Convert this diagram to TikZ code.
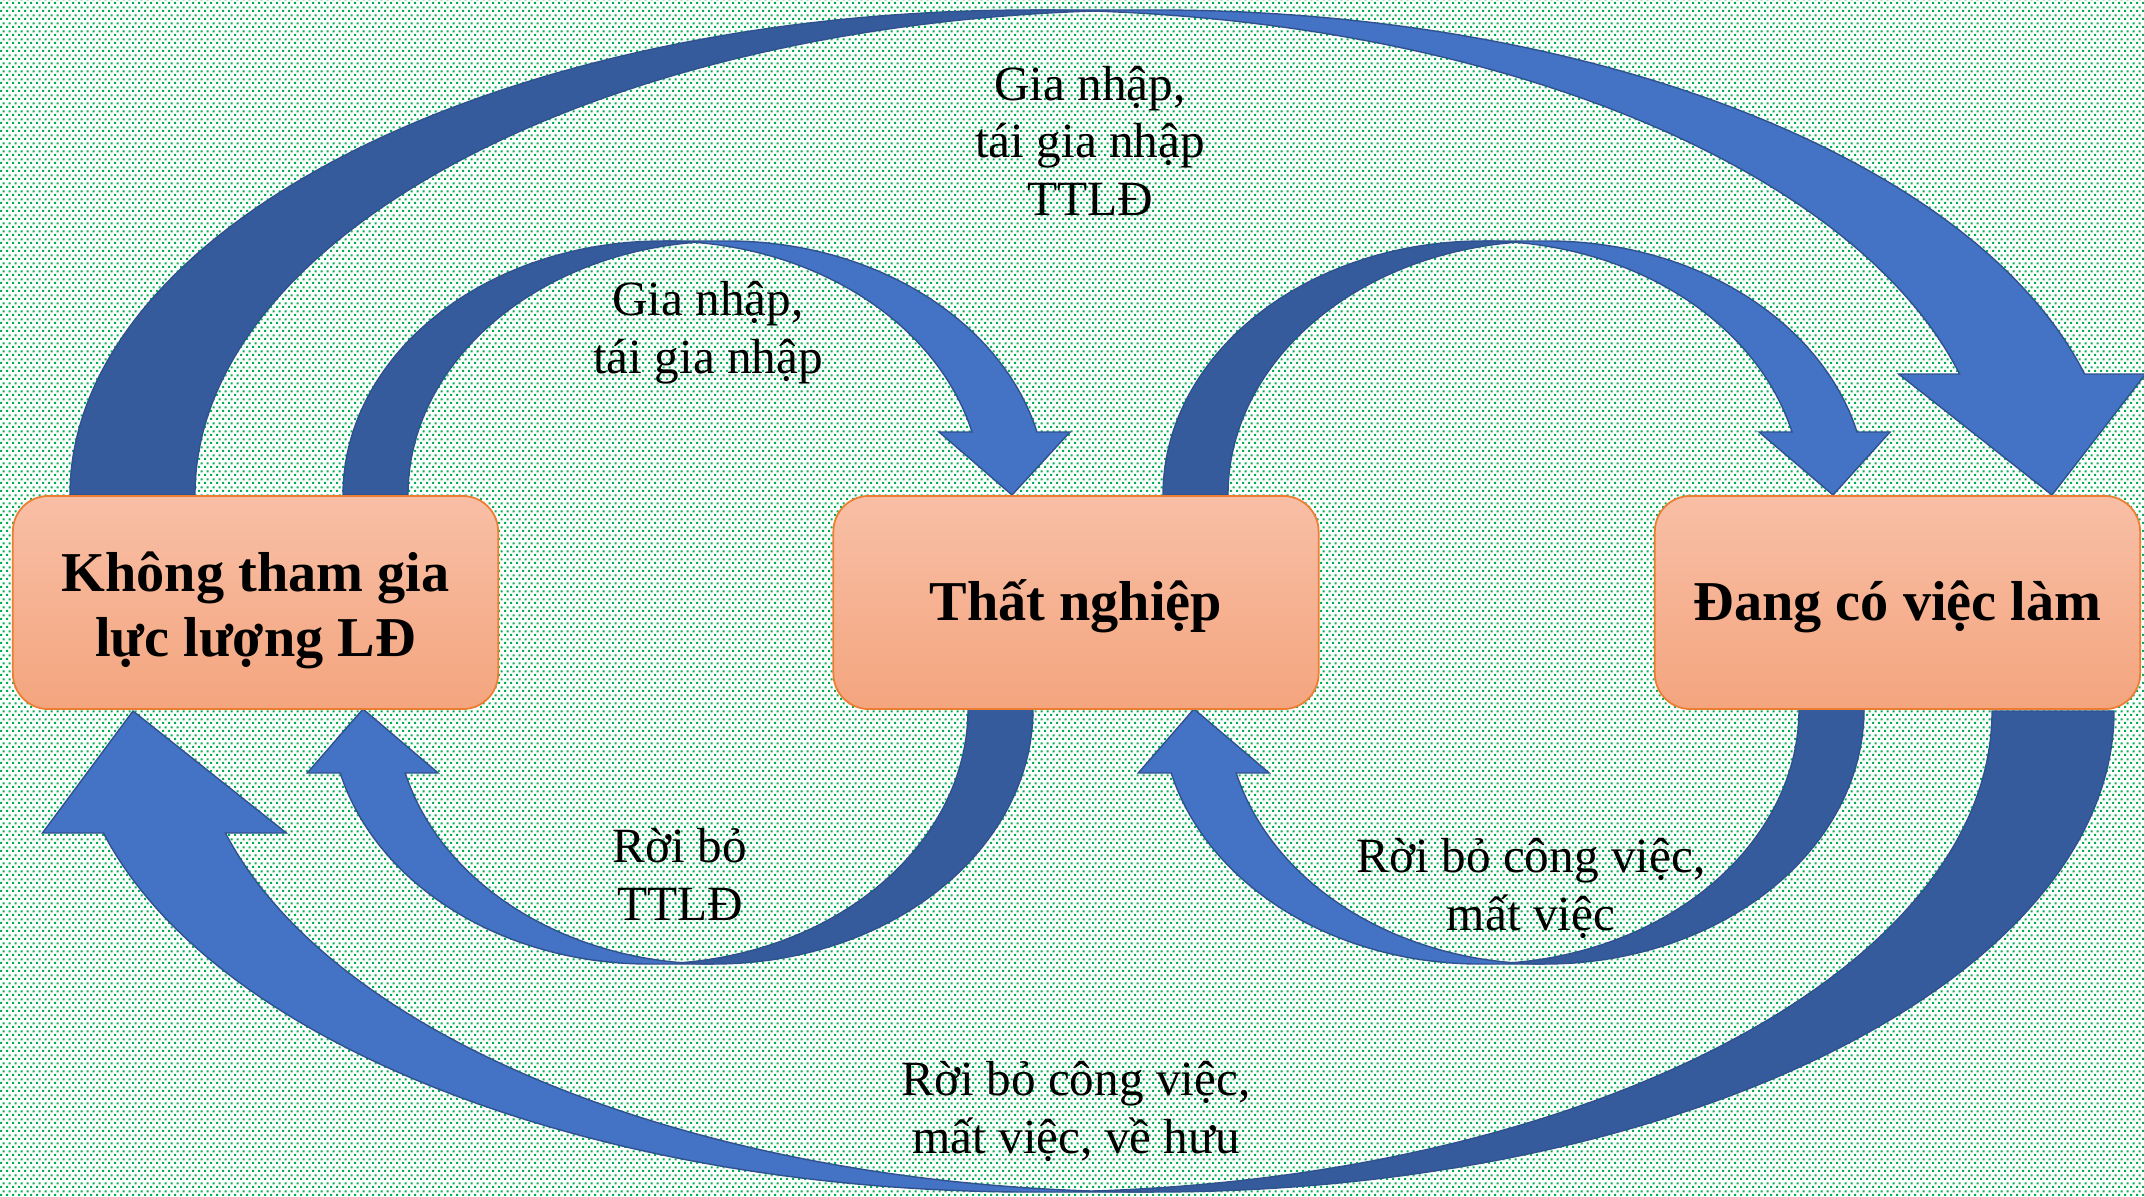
\documentclass[tikz,border=0pt]{standalone}
\usepackage{fontspec}
\setmainfont{Liberation Serif}
\usetikzlibrary{patterns}

\definecolor{dotgreen}{HTML}{00B050}
\definecolor{bandlight}{HTML}{4472C4}
\definecolor{banddark}{HTML}{365B9C}
\definecolor{bandline}{HTML}{2F528F}
\definecolor{boxtop}{HTML}{F8BFA6}
\definecolor{boxbottom}{HTML}{F4A57E}
\definecolor{boxline}{HTML}{ED7D31}

% dotted paper behind the diagram
\pgfdeclarepatternformonly{greendots}{\pgfpointorigin}{\pgfpoint{1.6pt}{2.16pt}}{\pgfpoint{1.6pt}{2.16pt}}{%
  \pgfpathrectangle{\pgfpointorigin}{\pgfpoint{0.62pt}{0.62pt}}%
  \pgfpathrectangle{\pgfpoint{0.8pt}{1.08pt}}{\pgfpoint{0.62pt}{0.62pt}}%
  \pgfusepath{fill}%
}

\begin{document}
\begin{tikzpicture}[x=0.01cm, y=-0.01cm,
  stbox/.style={draw=boxline, line width=0.5pt, rounded corners=0.355cm,
    top color=boxtop, bottom color=boxbottom, minimum width=4.85cm,
    minimum height=2.13cm, align=center,
    font=\fontsize{16}{18.5}\selectfont\bfseries},
  flowlabel/.style={align=center, anchor=base, font=\fontsize{14}{16.3}\selectfont},
  pics/bandarrow/.style n args={6}{code={
    \pgfmathsetmacro\angH{360-asin(#4/#2)}
    \pgfmathsetmacro\xh{#1+#1*cos(\angH)}
    \pgfmathsetmacro\angI{360-acos(#3/(2*#1))}
    \pgfmathsetmacro\angJ{180+acos(#3/(2*#1))}
    % front of the band, with the head
    \fill[bandlight, draw=bandline, line width=0.4pt] (#6,0) -- (\xh-#5,-#4) -- (\xh,-#4)
      arc[start angle=\angH, end angle=270, x radius=#1, y radius=#2]
      -- ++(#3,0)
      arc[start angle=270, end angle=\angH, x radius=#1, y radius=#2]
      -- ++(#5,0) -- cycle;
    % back of the band
    \fill[banddark, draw=bandline, line width=0.4pt] (0,0)
      arc[start angle=180, end angle=\angI, x radius=#1, y radius=#2]
      arc[start angle=\angJ, end angle=180, x radius=#1, y radius=#2] -- cycle;
  }}]

\useasboundingbox (0,0) rectangle (2144,1196);

% Background
\fill[white] (0,0) rectangle (2144,1196);
\fill[pattern=greendots, pattern color=dotgreen] (0,0) rectangle (2144,1196);

% Arrows over the top
\pic at (70,495) {bandarrow={960}{485}{125}{121}{61}{1982}};
\pic at (343,495) {bandarrow={319.5}{254}{65}{63}{33}{669}};
\pic at (1163,495) {bandarrow={319.5}{254}{65}{63}{33}{670}};

% Arrows underneath
\pic[rotate=180] at (1033,709) {bandarrow={319}{255}{65}{64}{33}{670}};
\pic[rotate=180] at (1864,709) {bandarrow={319}{255}{65}{64}{33}{670}};
\pic[rotate=180] at (2114,711) {bandarrow={960}{481}{122}{122}{61}{1981}};

% States
\node[stbox] (khong) at (255.5,602.5) {\rule{0pt}{16pt}Không tham gia\\lực lượng LĐ};
\node[stbox, text height=13pt, text depth=3pt] (thatnghiep) at (1076,602.5) {Thất nghiệp};
\node[stbox, text height=13pt, text depth=3pt] (dangco) at (1897.5,602.5) {Đang có việc làm};

% Flow labels (anchored at the last line)
\node[flowlabel] (joinall) at (1090,215) {Gia nhập,\\tái gia nhập\\TTLĐ};
\node[flowlabel] (joinunemp) at (708,373) {Gia nhập,\\tái gia nhập};
\node[flowlabel] (leaveunemp) at (680,920) {Rời bỏ\\TTLĐ};
\node[flowlabel] (leavejob) at (1531,930) {Rời bỏ công việc,\\mất việc};
\node[flowlabel] (leaveall) at (1076,1153) {Rời bỏ công việc,\\mất việc, về hưu};

\end{tikzpicture}
\end{document}
